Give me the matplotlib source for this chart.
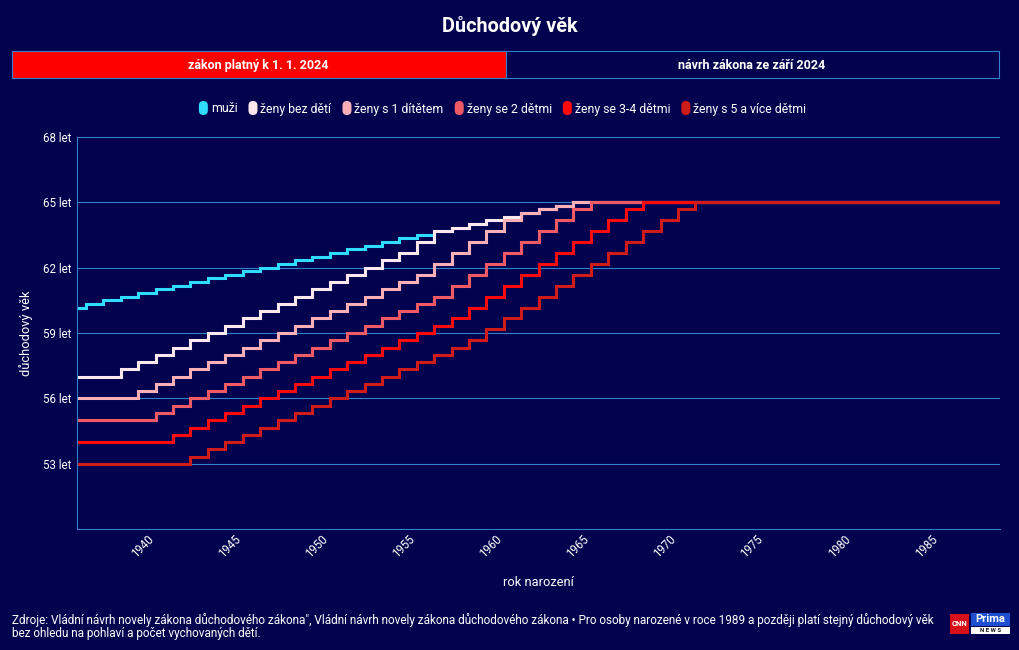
"""Důchodový věk – schodové křivky podle roku narození (zákon platný k 1. 1. 2024)."""
import numpy as np
import matplotlib
matplotlib.use("Agg")
import matplotlib.pyplot as plt
from matplotlib import font_manager
from matplotlib.patches import FancyBboxPatch, Rectangle
from matplotlib.transforms import ScaledTranslation, IdentityTransform

W, H = 1020, 650
BG = "#02024e"
GRID = "#3380cc"

names = {f.name for f in font_manager.fontManager.ttflist}
FONT = next((f for f in ["Roboto", "Open Sans"] if f in names), "DejaVu Sans")
plt.rcParams["font.family"] = [FONT, "DejaVu Sans"]

# rok narození 1936..1989, důchodový věk v měsících
YEARS = list(range(1936, 1990))

MUZI = [722, 724, 726, 728, 730, 732, 734, 736, 738, 740,   # 1936-1945
        742, 744, 746, 748, 750, 752, 754, 756, 758, 760,   # 1946-1955
        762, 764, 766, 768, 770, 772, 774, 776, 778, 780,   # 1956-1965
        780, 780, 780, 780, 780, 780, 780, 780, 780, 780,   # 1966-1975
        780, 780, 780, 780, 780, 780, 780, 780, 780, 780,   # 1976-1985
        780, 780, 780, 780]                                 # 1986-1989
ZENY_0 = [684, 684, 684, 688, 692, 696, 700, 704, 708, 712,
          716, 720, 724, 728, 732, 736, 740, 744, 748, 752,
          758, 764, 766, 768, 770, 772, 774, 776, 778, 780,
          780, 780, 780, 780, 780, 780, 780, 780, 780, 780,
          780, 780, 780, 780, 780, 780, 780, 780, 780, 780,
          780, 780, 780, 780]
ZENY_1 = [672, 672, 672, 672, 676, 680, 684, 688, 692, 696,
          700, 704, 708, 712, 716, 720, 724, 728, 732, 736,
          740, 746, 752, 758, 764, 770, 774, 776, 778, 780,
          780, 780, 780, 780, 780, 780, 780, 780, 780, 780,
          780, 780, 780, 780, 780, 780, 780, 780, 780, 780,
          780, 780, 780, 780]
ZENY_2 = [660, 660, 660, 660, 660, 664, 668, 672, 676, 680,
          684, 688, 692, 696, 700, 704, 708, 712, 716, 720,
          724, 728, 734, 740, 746, 752, 758, 764, 770, 776,
          780, 780, 780, 780, 780, 780, 780, 780, 780, 780,
          780, 780, 780, 780, 780, 780, 780, 780, 780, 780,
          780, 780, 780, 780]
ZENY_34 = [648, 648, 648, 648, 648, 648, 652, 656, 660, 664,
           668, 672, 676, 680, 684, 688, 692, 696, 700, 704,
           708, 712, 716, 722, 728, 734, 740, 746, 752, 758,
           764, 770, 776, 780, 780, 780, 780, 780, 780, 780,
           780, 780, 780, 780, 780, 780, 780, 780, 780, 780,
           780, 780, 780, 780]
ZENY_5 = [636, 636, 636, 636, 636, 636, 636, 640, 644, 648,
          652, 656, 660, 664, 668, 672, 676, 680, 684, 688,
          692, 696, 700, 704, 710, 716, 722, 728, 734, 740,
          746, 752, 758, 764, 770, 776, 780, 780, 780, 780,
          780, 780, 780, 780, 780, 780, 780, 780, 780, 780,
          780, 780, 780, 780]

SERIES = [MUZI, ZENY_0, ZENY_1, ZENY_2, ZENY_34, ZENY_5]
LABELS = ["muži", "ženy bez dětí", "ženy s 1 dítětem", "ženy se 2 dětmi",
          "ženy se 3-4 dětmi", "ženy s 5 a více dětmi"]
COLORS = ["#2fdcfb", "#fde8ee", "#fbb0b8", "#ef5a64", "#ff0a0a", "#d01c18"]
YTICKS = [53, 56, 59, 62, 65, 68]
XTICKS = list(range(1940, 1990, 5))

TITLE = "Důchodový věk"
BUTTONS = ["zákon platný k 1. 1. 2024", "návrh zákona ze září 2024"]
FOOT1 = ("Zdroje: Vládní návrh novely zákona důchodového zákona\", Vládní návrh novely zákona "
         "důchodového zákona • Pro osoby narozené v roce 1989 a později platí stejný důchodový věk")
FOOT2 = "bez ohledu na pohlaví a počet vychovaných dětí."


def fx(x): return x / W
def fy(y): return 1 - y / H


fig = plt.figure(figsize=(W / 100, H / 100), dpi=100, facecolor=BG)
L, R, T, B = 77.3, 1000, 136.7, 529.3
ax = fig.add_axes([fx(L), fy(B), (R - L) / W, (B - T) / H])
ax.set_facecolor(BG)

for vals, col in zip(SERIES, COLORS):
    ax.plot(YEARS, np.array(vals) / 12, drawstyle="steps-mid", color=col, lw=2.2,
            solid_joinstyle="miter", solid_capstyle="butt")

ax.set_xlim(1936, 1989)
ax.set_ylim(50, 68)
ax.set_yticks(YTICKS)
ax.set_yticklabels([f"{v} let" for v in YTICKS])
ax.set_xticks(XTICKS)
ax.set_xticklabels([str(v) for v in XTICKS])
ax.grid(axis="y", color=GRID, lw=0.8)
ax.set_axisbelow(True)
for s in ("top", "right"):
    ax.spines[s].set_visible(False)
for s in ("left", "bottom"):
    ax.spines[s].set_color(GRID)
    ax.spines[s].set_linewidth(0.8)
ax.tick_params(axis="y", length=0, pad=4.5, labelsize=8.3, colors="white")
ax.tick_params(axis="x", length=0, pad=5.5, labelsize=8.3, colors="white")
off = ScaledTranslation(5 / 100, 0, fig.dpi_scale_trans)
for lab in ax.get_xticklabels():
    lab.set_rotation(45)
    lab.set_ha("right")
    lab.set_va("center")
    lab.set_rotation_mode("anchor")
    lab.set_transform(lab.get_transform() + off)

# titulky
fig.text(fx(510), fy(31.5), TITLE, color="white", fontsize=14.3, fontweight="bold",
         ha="center", va="baseline")
fig.text(fx(26), fy(333), "důchodový věk", color="white", fontsize=9.3, rotation=90,
         ha="center", va="center")
fig.text(fx(538.6), fy(585.7), "rok narození", color="white", fontsize=9.3,
         ha="center", va="baseline")

# přepínač
px = IdentityTransform()
fig.add_artist(Rectangle((11.7, H - 78.3), 505.5 - 11.7, 27.3, transform=px,
                         facecolor="#ff0000", edgecolor="none"))
fig.add_artist(Rectangle((11.7, H - 78.3), 998.7 - 11.7, 27.3, transform=px,
                         facecolor="none", edgecolor=GRID, lw=0.8))
fig.add_artist(Rectangle((505.5, H - 78.3), 0, 27.3, transform=px,
                         facecolor="none", edgecolor=GRID, lw=0.8))
fig.text(fx(258.6), fy(69), BUTTONS[0], color="white", fontsize=9, fontweight="bold",
         ha="center", va="baseline")
fig.text(fx(752), fy(69), BUTTONS[1], color="white", fontsize=9, fontweight="bold",
         ha="center", va="baseline")

# legenda
rend = fig.canvas.get_renderer()
texts = [fig.text(0, fy(112.5), s, color="white", fontsize=8.8, va="baseline") for s in LABELS]
widths = [t.get_window_extent(rend).width for t in texts]
MW, G1, G2 = 9, 3, 11
total = sum(MW + G1 + w for w in widths) + G2 * (len(widths) - 1)
x = 502.6 - total / 2
for t, w, c in zip(texts, widths, COLORS):
    fig.add_artist(FancyBboxPatch((x, H - 115), MW, 14, transform=px,
                                  boxstyle="round,pad=0,rounding_size=4.5",
                                  facecolor=c, edgecolor="none"))
    t.set_x(fx(x + MW + G1))
    x += MW + G1 + w + G2

# zdroj
fig.text(fx(12), fy(624), FOOT1, color="white", fontsize=8.5, va="baseline")
fig.text(fx(12), fy(637), FOOT2, color="white", fontsize=8.5, va="baseline")

# logo
fig.add_artist(Rectangle((950, H - 634), 19, 20, transform=px, facecolor="#d8101c", edgecolor="none"))
fig.text(fx(959.5), fy(624), "CNN", color="white", fontsize=5.5, fontweight="bold",
         ha="center", va="center")
fig.add_artist(Rectangle((971, H - 626), 39, 13, transform=px, facecolor="#1e4fd0", edgecolor="none"))
fig.text(fx(990.5), fy(619.5), "Prima", color="white", fontsize=8, fontweight="bold",
         ha="center", va="center")
fig.add_artist(Rectangle((971, H - 634), 39, 7, transform=px, facecolor="white", edgecolor="none"))
fig.text(fx(990.5), fy(630.5), "N E W S", color="#111111", fontsize=4.3, fontweight="bold",
         ha="center", va="center")

fig.savefig("out.png", dpi=100, facecolor=BG)
